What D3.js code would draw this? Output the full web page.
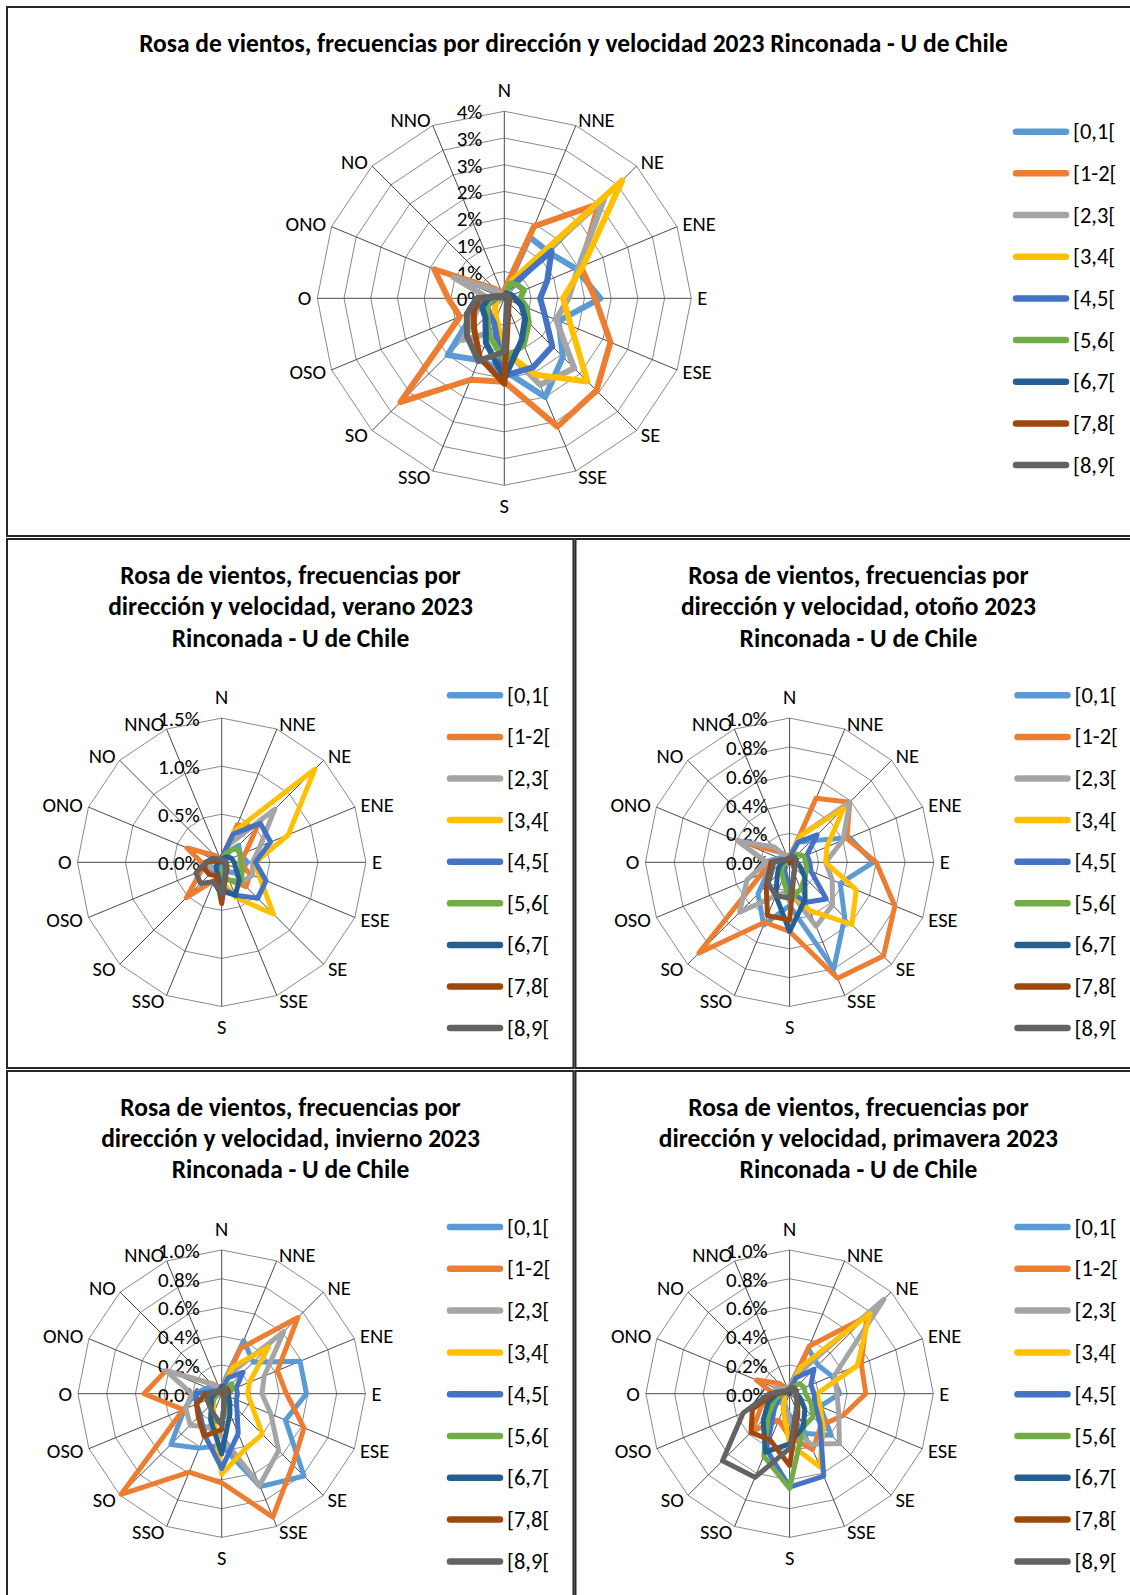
<!DOCTYPE html>
<html>
<head>
  <title>Rosa de vientos 2023 Rinconada - U de Chile</title>
  <meta charset="utf-8">
  <style>
  body { margin: 0; background: #fff; }
  svg { display: block; font-family: Carlito, Calibri, Lato, sans-serif; }
  .panel { fill: #fff; stroke: #262626; stroke-width: 2; }
  .ring { fill: none; stroke: #8a8a8a; stroke-width: 1; }
  .spoke { stroke: #4a4a4a; stroke-width: 1; }
  .title { font-weight: bold; fill: #000; font-size: 25.5px; }
  .serie { fill: none; stroke-linejoin: round; }
  .dir { font-size: 20.5px; }
  .tick { font-size: 21px; }
  .ley { font-size: 22.5px; }
  </style>
</head>
<body>
<svg width="1130" height="1595"></svg>
<script src="https://d3js.org/d3.v7.min.js"></script>
<script>

var direcciones = ["N", "NNE", "NE", "ENE", "E", "ESE", "SE", "SSE", "S", "SSO", "SO", "OSO", "O", "ONO", "NO", "NNO"];
var rangos = ["[0,1[", "[1-2[", "[2,3[", "[3,4[", "[4,5[", "[5,6[", "[6,7[", "[7,8[", "[8,9["];
var colores = ["#5b9bd5", "#ed7d31", "#a5a5a5", "#ffc000", "#4472c4", "#70ad47", "#255e91", "#9e480e", "#636363"];

// frecuencias en %, una fila por rango de velocidad, columnas en el orden de direcciones
var anual = [
  [0.10, 1.24, 1.20, 1.45, 1.80, 1.10, 1.55, 2.00, 1.35, 1.25, 1.50, 0.60, 0.30, 0.20, 0.10, 0.08],
  [0.15, 1.46, 2.50, 1.55, 1.70, 2.15, 2.44, 2.60, 1.56, 1.65, 2.75, 0.90, 1.05, 1.42, 0.25, 0.10],
  [0.05, 0.30, 2.65, 1.50, 1.20, 1.05, 1.85, 1.75, 0.95, 0.70, 1.10, 0.55, 0.30, 1.03, 0.20, 0.05],
  [0.05, 0.35, 3.12, 1.60, 1.10, 1.35, 2.20, 1.55, 1.00, 0.40, 0.25, 0.15, 0.20, 0.10, 0.05, 0.05],
  [0.05, 0.20, 1.25, 0.87, 0.67, 0.82, 1.27, 1.40, 1.45, 0.50, 0.40, 0.35, 0.15, 0.05, 0.05, 0.05],
  [0.05, 0.30, 0.35, 0.40, 0.30, 0.45, 0.65, 0.95, 1.15, 0.75, 0.45, 0.35, 0.20, 0.05, 0.05, 0.05],
  [0.05, 0.10, 0.10, 0.15, 0.20, 0.35, 0.55, 0.85, 1.50, 0.90, 0.50, 0.45, 0.30, 0.10, 0.05, 0.05],
  [0.05, 0.05, 0.07, 0.08, 0.10, 0.10, 0.12, 0.20, 1.60, 1.20, 0.80, 0.62, 0.46, 0.10, 0.05, 0.05],
  [0.06, 0.07, 0.08, 0.08, 0.08, 0.08, 0.09, 0.13, 1.00, 1.27, 0.99, 0.76, 0.52, 0.10, 0.06, 0.05]
];

var verano = [
  [0.03, 0.10, 0.25, 0.21, 0.27, 0.21, 0.15, 0.10, 0.05, 0.05, 0.12, 0.16, 0.11, 0.05, 0.03, 0.03],
  [0.05, 0.42, 0.52, 0.27, 0.19, 0.32, 0.36, 0.20, 0.15, 0.20, 0.52, 0.23, 0.21, 0.39, 0.10, 0.05],
  [0.03, 0.20, 0.78, 0.43, 0.32, 0.35, 0.29, 0.20, 0.12, 0.08, 0.10, 0.13, 0.16, 0.11, 0.03, 0.03],
  [0.03, 0.35, 1.37, 0.75, 0.35, 0.43, 0.76, 0.40, 0.20, 0.10, 0.05, 0.05, 0.05, 0.03, 0.03, 0.03],
  [0.05, 0.32, 0.57, 0.55, 0.35, 0.50, 0.53, 0.37, 0.27, 0.10, 0.08, 0.05, 0.05, 0.03, 0.03, 0.03],
  [0.03, 0.10, 0.21, 0.21, 0.19, 0.23, 0.29, 0.20, 0.15, 0.08, 0.05, 0.05, 0.03, 0.03, 0.03, 0.03],
  [0.03, 0.05, 0.08, 0.11, 0.13, 0.16, 0.26, 0.37, 0.30, 0.12, 0.08, 0.05, 0.03, 0.03, 0.03, 0.03],
  [0.02, 0.02, 0.03, 0.03, 0.03, 0.05, 0.08, 0.12, 0.43, 0.15, 0.18, 0.19, 0.17, 0.05, 0.02, 0.02],
  [0.03, 0.03, 0.03, 0.03, 0.05, 0.05, 0.05, 0.10, 0.34, 0.22, 0.31, 0.29, 0.16, 0.11, 0.05, 0.03]
];

var otono = [
  [0.05, 0.15, 0.21, 0.45, 0.58, 0.38, 0.54, 0.80, 0.30, 0.47, 0.31, 0.16, 0.18, 0.08, 0.05, 0.03],
  [0.03, 0.48, 0.59, 0.43, 0.60, 0.79, 0.92, 0.87, 0.48, 0.45, 0.89, 0.21, 0.16, 0.39, 0.10, 0.05],
  [0.03, 0.20, 0.59, 0.40, 0.25, 0.32, 0.42, 0.48, 0.20, 0.25, 0.49, 0.32, 0.16, 0.39, 0.15, 0.03],
  [0.03, 0.20, 0.53, 0.28, 0.25, 0.50, 0.61, 0.36, 0.20, 0.10, 0.05, 0.05, 0.09, 0.05, 0.03, 0.03],
  [0.03, 0.15, 0.27, 0.13, 0.14, 0.16, 0.36, 0.30, 0.20, 0.08, 0.05, 0.05, 0.05, 0.03, 0.03, 0.03],
  [0.03, 0.05, 0.08, 0.11, 0.11, 0.13, 0.15, 0.20, 0.27, 0.12, 0.08, 0.05, 0.03, 0.03, 0.03, 0.03],
  [0.02, 0.03, 0.05, 0.05, 0.05, 0.08, 0.15, 0.28, 0.48, 0.25, 0.12, 0.08, 0.05, 0.03, 0.02, 0.02],
  [0.02, 0.03, 0.03, 0.03, 0.03, 0.03, 0.05, 0.08, 0.40, 0.40, 0.23, 0.15, 0.13, 0.05, 0.02, 0.02],
  [0.03, 0.05, 0.05, 0.05, 0.05, 0.05, 0.05, 0.08, 0.25, 0.25, 0.21, 0.13, 0.11, 0.05, 0.03, 0.03]
];

var invierno = [
  [0.05, 0.40, 0.31, 0.59, 0.59, 0.48, 0.81, 0.70, 0.36, 0.41, 0.50, 0.28, 0.19, 0.11, 0.05, 0.03],
  [0.03, 0.34, 0.75, 0.42, 0.45, 0.62, 0.70, 0.93, 0.62, 0.59, 0.99, 0.29, 0.54, 0.42, 0.10, 0.05],
  [0.03, 0.15, 0.61, 0.32, 0.28, 0.37, 0.56, 0.69, 0.30, 0.25, 0.31, 0.27, 0.21, 0.42, 0.10, 0.03],
  [0.03, 0.20, 0.46, 0.21, 0.18, 0.23, 0.40, 0.42, 0.56, 0.15, 0.08, 0.05, 0.05, 0.03, 0.03, 0.03],
  [0.03, 0.12, 0.21, 0.11, 0.11, 0.11, 0.15, 0.30, 0.52, 0.31, 0.21, 0.19, 0.18, 0.05, 0.03, 0.03],
  [0.02, 0.03, 0.10, 0.08, 0.05, 0.05, 0.05, 0.10, 0.20, 0.20, 0.10, 0.05, 0.03, 0.02, 0.02, 0.02],
  [0.05, 0.05, 0.05, 0.05, 0.05, 0.05, 0.08, 0.15, 0.42, 0.20, 0.10, 0.08, 0.05, 0.03, 0.03, 0.03],
  [0.02, 0.03, 0.05, 0.05, 0.03, 0.03, 0.03, 0.05, 0.25, 0.32, 0.23, 0.19, 0.11, 0.03, 0.02, 0.02],
  [0.03, 0.05, 0.03, 0.03, 0.03, 0.03, 0.03, 0.05, 0.22, 0.15, 0.12, 0.11, 0.09, 0.03, 0.03, 0.03]
];

var primavera = [
  [0.05, 0.34, 0.28, 0.32, 0.35, 0.23, 0.41, 0.30, 0.15, 0.10, 0.08, 0.05, 0.05, 0.03, 0.03, 0.03],
  [0.03, 0.36, 0.76, 0.54, 0.53, 0.40, 0.31, 0.42, 0.30, 0.20, 0.37, 0.21, 0.11, 0.25, 0.10, 0.03],
  [0.03, 0.15, 0.93, 0.34, 0.33, 0.37, 0.49, 0.38, 0.20, 0.08, 0.05, 0.05, 0.11, 0.11, 0.05, 0.03],
  [0.03, 0.20, 0.79, 0.51, 0.19, 0.23, 0.33, 0.55, 0.35, 0.12, 0.05, 0.05, 0.05, 0.03, 0.03, 0.03],
  [0.03, 0.12, 0.24, 0.16, 0.17, 0.19, 0.30, 0.62, 0.65, 0.42, 0.15, 0.08, 0.05, 0.03, 0.03, 0.03],
  [0.02, 0.05, 0.10, 0.11, 0.11, 0.16, 0.23, 0.25, 0.66, 0.47, 0.21, 0.11, 0.05, 0.03, 0.02, 0.02],
  [0.02, 0.03, 0.05, 0.05, 0.05, 0.08, 0.15, 0.25, 0.35, 0.44, 0.26, 0.16, 0.09, 0.03, 0.02, 0.02],
  [0.03, 0.05, 0.05, 0.05, 0.05, 0.05, 0.08, 0.15, 0.50, 0.35, 0.38, 0.28, 0.11, 0.03, 0.03, 0.03],
  [0.03, 0.05, 0.05, 0.03, 0.05, 0.05, 0.07, 0.12, 0.38, 0.63, 0.66, 0.35, 0.14, 0.05, 0.03, 0.03]
];

var ticksAnual = [0, 0.5, 1, 1.5, 2, 2.5, 3, 3.5];
var ticksAnualTxt = ["0%", "1%", "1%", "2%", "2%", "3%", "3%", "4%"];
var ticksVerano = [0, 0.5, 1, 1.5];
var ticksVeranoTxt = ["0.0%", "0.5%", "1.0%", "1.5%"];
var ticksEst = [0, 0.2, 0.4, 0.6, 0.8, 1.0];
var ticksEstTxt = ["0.0%", "0.2%", "0.4%", "0.6%", "0.8%", "1.0%"];

var svg = d3.select("svg");

var paneles = [
  { x: 7, y: 7, w: 1128, h: 529, lw: 6,
    titulo: ["Rosa de vientos, frecuencias por dirección y velocidad 2023 Rinconada - U de Chile"],
    tx: 573.5, ty: [43],
    cx: 504.3, cy: 298.3, r: 187, datos: anual, ticks: ticksAnual, tickTxt: ticksAnualTxt,
    legX: 1013, legY: 131.7, legDy: 41.67 },
  { x: 7, y: 539, w: 566.5, h: 529, lw: 5,
    titulo: ["Rosa de vientos, frecuencias por", "dirección y velocidad, verano 2023", "Rinconada - U de Chile"],
    tx: 290.5, ty: [575.3, 606.3, 638],
    cx: 221.7, cy: 862.3, r: 144.2, datos: verano, ticks: ticksVerano, tickTxt: ticksVeranoTxt,
    legX: 447, legY: 695.3, legDy: 41.6 },
  { x: 575.5, y: 539, w: 560, h: 529, lw: 5,
    titulo: ["Rosa de vientos, frecuencias por", "dirección y velocidad, otoño 2023", "Rinconada - U de Chile"],
    tx: 858.4, ty: [575.3, 606.3, 638],
    cx: 789.6, cy: 862.3, r: 144.2, datos: otono, ticks: ticksEst, tickTxt: ticksEstTxt,
    legX: 1014.5, legY: 695.3, legDy: 41.6 },
  { x: 7, y: 1071, w: 566.5, h: 540, lw: 5,
    titulo: ["Rosa de vientos, frecuencias por", "dirección y velocidad, invierno 2023", "Rinconada - U de Chile"],
    tx: 290.5, ty: [1107.2, 1138, 1169.8],
    cx: 221.7, cy: 1393.7, r: 143.7, datos: invierno, ticks: ticksEst, tickTxt: ticksEstTxt,
    legX: 447, legY: 1227, legDy: 41.8 },
  { x: 575.5, y: 1071, w: 560, h: 540, lw: 5,
    titulo: ["Rosa de vientos, frecuencias por", "dirección y velocidad, primavera 2023", "Rinconada - U de Chile"],
    tx: 858.4, ty: [1107.2, 1138, 1169.8],
    cx: 789.6, cy: 1393.7, r: 143.7, datos: primavera, ticks: ticksEst, tickTxt: ticksEstTxt,
    legX: 1014.5, legY: 1227, legDy: 41.8 }
];

var paso = 2 * Math.PI / direcciones.length;

paneles.forEach(function(p) {
  svg.append("rect").attr("class", "panel")
      .attr("x", p.x).attr("y", p.y).attr("width", p.w).attr("height", p.h);

  p.titulo.forEach(function(t, i) {
    svg.append("text").attr("class", "title")
        .attr("x", p.tx).attr("y", p.ty[i])
        .attr("text-anchor", "middle").attr("dominant-baseline", "central")
        .text(t);
  });

  var max = p.ticks[p.ticks.length - 1];
  var r = d3.scaleLinear().domain([0, max]).range([0, p.r]);
  var g = svg.append("g").attr("transform", "translate(" + p.cx + "," + p.cy + ")");

  var linea = d3.lineRadial()
      .angle(function(d, i) { return i * paso; })
      .radius(function(d) { return r(d); })
      .curve(d3.curveLinearClosed);

  // anillos
  g.selectAll(".ring")
    .data(p.ticks.slice(1))
    .enter().append("path")
      .attr("class", "ring")
      .attr("d", function(t) { return linea(direcciones.map(function() { return t; })); });

  // rayos
  g.selectAll(".spoke")
    .data(direcciones)
    .enter().append("line")
      .attr("class", "spoke")
      .attr("x1", 0).attr("y1", 0)
      .attr("x2", function(d, i) { return r(max) * Math.sin(i * paso); })
      .attr("y2", function(d, i) { return -r(max) * Math.cos(i * paso); });

  // etiquetas de valores
  g.selectAll(".tick")
    .data(p.ticks)
    .enter().append("text")
      .attr("class", "tick")
      .attr("x", -22)
      .attr("y", function(t) { return -r(t) + 1; })
      .attr("text-anchor", "end").attr("dominant-baseline", "central")
      .text(function(t, i) { return p.tickTxt[i]; });

  // etiquetas de direcciones
  g.selectAll(".dir")
    .data(direcciones)
    .enter().append("text")
      .attr("class", "dir")
      .attr("x", function(d, i) { return (r(max) + 6) * Math.sin(i * paso); })
      .attr("y", function(d, i) {
        var extra = Math.abs(Math.sin(i * paso)) < 0.01 ? 15 : 0;
        return -(r(max) + 6 + extra) * Math.cos(i * paso);
      })
      .attr("text-anchor", function(d, i) {
        var s = Math.sin(i * paso);
        return s > 0.01 ? "start" : (s < -0.01 ? "end" : "middle");
      })
      .attr("dominant-baseline", "central")
      .text(function(d) { return d; });

  // series
  g.selectAll(".serie")
    .data(p.datos)
    .enter().append("path")
      .attr("class", "serie")
      .attr("stroke", function(d, i) { return colores[i]; })
      .attr("stroke-width", p.lw)
      .attr("d", linea);

  // leyenda
  var ley = svg.append("g");
  rangos.forEach(function(nombre, i) {
    var y = p.legY + i * p.legDy;
    ley.append("line")
        .attr("x1", p.legX + 3).attr("x2", p.legX + 53)
        .attr("y1", y).attr("y2", y)
        .attr("stroke", colores[i]).attr("stroke-width", 6.5)
        .attr("stroke-linecap", "round");
    ley.append("text")
        .attr("class", "ley")
        .attr("x", p.legX + 60).attr("y", y)
        .attr("dominant-baseline", "central")
        .text(nombre);
  });
});

</script>
</body>
</html>
